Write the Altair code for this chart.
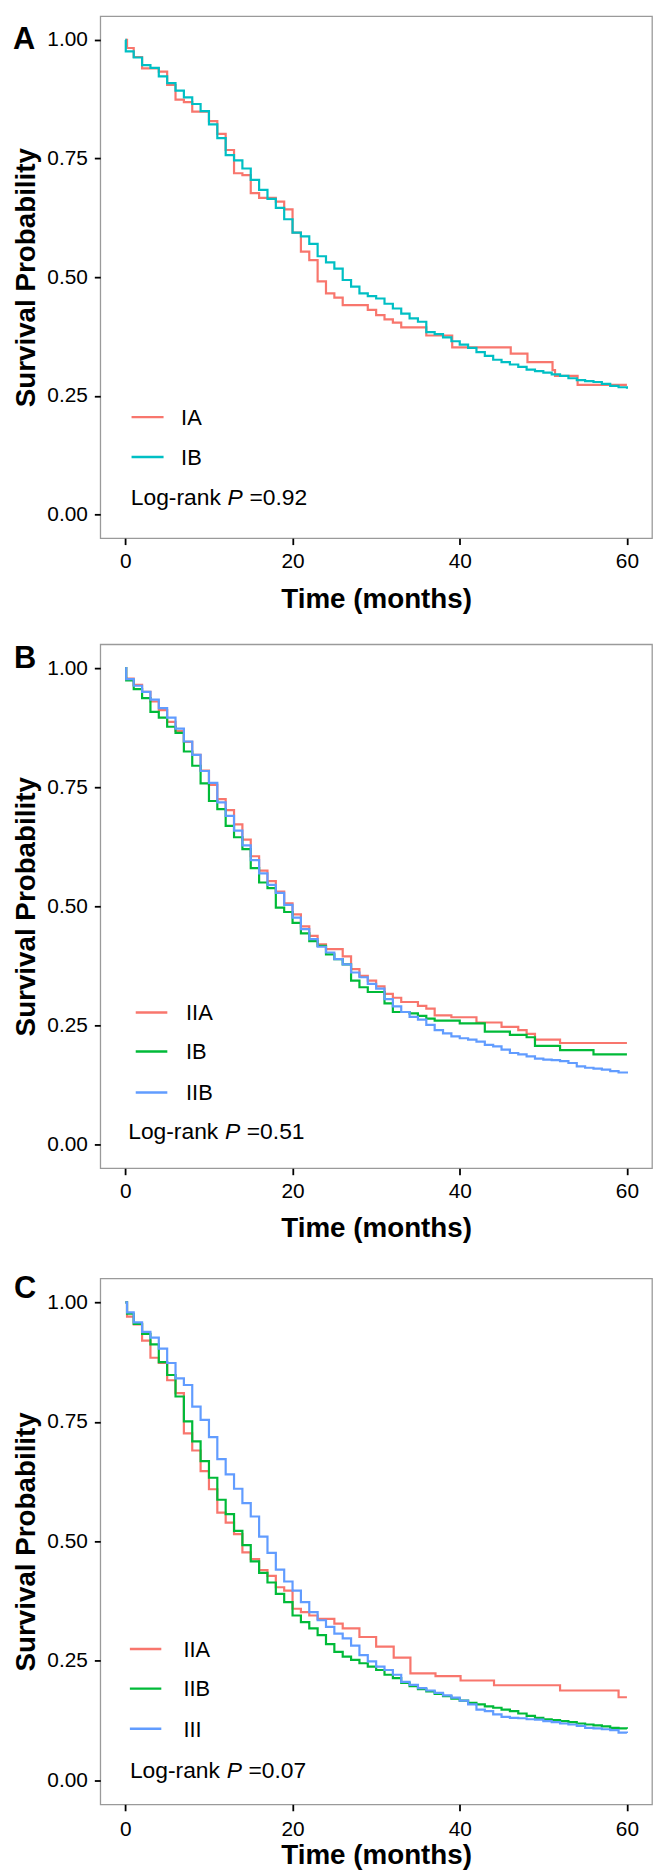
import altair as alt
import pandas as pd

FONT = "Liberation Sans"

# ---------------- Panel A ----------------
A_stages = ["IA", "IB"]
A_colors = ["#F8766D", "#00BFC4"]
A_IA_t = [0, 0.2, 1, 2, 4, 5, 6, 7, 8, 10, 11, 12, 13, 14, 15, 16, 18, 19, 20, 21, 22, 23, 24, 25, 26,
          29, 30, 31, 32, 33, 36, 39.1, 46.1, 48.1, 51.1, 51.4, 54.1, 60]
A_IA_s = [1.0, 0.983, 0.964, 0.940, 0.933, 0.905, 0.874, 0.869, 0.849, 0.829, 0.802, 0.768, 0.719, 0.715,
          0.677, 0.667, 0.659, 0.643, 0.594, 0.554, 0.536, 0.491, 0.466, 0.457, 0.441,
          0.431, 0.420, 0.411, 0.404, 0.394, 0.377, 0.352, 0.339, 0.321, 0.304, 0.292, 0.273, 0.273]
A_IB_t = [0, 0.05, 1, 2, 3, 4, 5, 6, 7, 8, 9, 10, 11, 12, 13, 14, 15, 16, 17, 18, 19, 20, 21, 22, 23, 24,
          25, 26, 27, 28, 29, 30, 31, 32, 33, 34, 35, 36, 37, 38, 39, 40, 41, 42, 43, 44, 45, 46, 47, 48,
          49, 50, 51, 52, 53, 54, 55, 56, 57, 58, 59, 60]
A_IB_s = [1.0, 0.976, 0.963, 0.947, 0.941, 0.923, 0.909, 0.893, 0.879, 0.865, 0.850, 0.822, 0.793, 0.757,
          0.746, 0.729, 0.705, 0.684, 0.665, 0.646, 0.622, 0.594, 0.586, 0.570, 0.544, 0.531,
          0.518, 0.494, 0.480, 0.466, 0.460, 0.455, 0.444, 0.434, 0.423, 0.413, 0.406, 0.384, 0.380, 0.373,
          0.365, 0.358, 0.351, 0.342, 0.334, 0.326, 0.321, 0.316, 0.311, 0.305,
          0.302, 0.299, 0.295, 0.292, 0.287, 0.283, 0.281, 0.279, 0.275, 0.271, 0.268, 0.265]
A_pval = "=0.92"

# ---------------- Panel B ----------------
B_stages = ["IIA", "IB", "IIB"]
B_colors = ["#F8766D", "#00BA38", "#619CFF"]
B_IIA_t = [0, 0.1, 1, 2, 3, 4, 5, 6, 7, 8, 9, 10, 11, 12, 13, 14, 15, 16, 17, 18, 19, 20, 21, 22, 23, 24,
           26, 27, 28, 29, 30, 31, 32, 33, 35, 36, 37, 39, 42, 45, 47, 48, 49, 52, 60]
B_IIA_s = [1.0, 0.978, 0.965, 0.950, 0.930, 0.912, 0.887, 0.868, 0.845, 0.818, 0.785, 0.755, 0.725, 0.702,
           0.672, 0.640, 0.605, 0.575, 0.553, 0.531, 0.506, 0.483, 0.458, 0.438, 0.420, 0.410,
           0.395, 0.368, 0.354, 0.344, 0.332, 0.316, 0.308, 0.299, 0.291, 0.285, 0.271, 0.267, 0.256, 0.247,
           0.240, 0.232, 0.220, 0.213, 0.213]
B_IB_t = [0, 0.1, 1, 2, 3, 4, 5, 6, 7, 8, 9, 10, 11, 12, 13, 14, 15, 16, 17, 18, 19, 20, 21, 22, 23, 24,
          25, 26, 27, 28, 29, 31, 32, 34, 35, 36, 37, 40, 43, 46, 48, 49, 52, 56, 60]
B_IB_s = [1.0, 0.974, 0.956, 0.937, 0.908, 0.896, 0.877, 0.864, 0.825, 0.795, 0.758, 0.721, 0.704, 0.669,
          0.645, 0.620, 0.580, 0.550, 0.538, 0.497, 0.488, 0.465, 0.443, 0.427, 0.417, 0.399,
          0.389, 0.378, 0.344, 0.330, 0.320, 0.296, 0.278, 0.275, 0.270, 0.264, 0.260, 0.254, 0.237, 0.230,
          0.225, 0.207, 0.198, 0.189, 0.189]
B_IIB_t = [0, 0.1, 1, 2, 3, 4, 5, 6, 7, 8, 9, 10, 11, 12, 13, 14, 15, 16, 17, 18, 19, 20, 21, 22, 23, 24,
           25, 26, 27, 28, 29, 30, 31, 32, 33, 34, 35, 36, 37, 38, 39, 40, 41, 42, 43, 44, 45, 46, 47, 48,
           49, 50, 51, 52, 53, 54, 55, 56, 57, 58, 59, 60]
B_IIB_s = [1.0, 0.977, 0.963, 0.950, 0.934, 0.916, 0.896, 0.873, 0.846, 0.818, 0.784, 0.759, 0.718, 0.690,
           0.659, 0.628, 0.597, 0.569, 0.545, 0.528, 0.503, 0.476, 0.452, 0.431, 0.415, 0.403,
           0.389, 0.378, 0.361, 0.351, 0.337, 0.327, 0.305, 0.290, 0.278, 0.268, 0.262, 0.251, 0.240, 0.233,
           0.227, 0.223, 0.220, 0.216, 0.209, 0.206, 0.199, 0.192, 0.189, 0.185,
           0.180, 0.178, 0.177, 0.175, 0.171, 0.164, 0.161, 0.159, 0.157, 0.154, 0.151, 0.149]
B_pval = "=0.51"

# ---------------- Panel C ----------------
C_stages = ["IIA", "IIB", "III"]
C_colors = ["#F8766D", "#00BA38", "#619CFF"]
C_IIA_t = [0, 0.2, 1, 2, 3, 4, 5, 6, 7, 8, 9, 10, 11, 12, 13, 14, 15, 16, 17, 18, 19, 20, 21, 22, 23,
           25, 26, 28, 30, 32.1, 34.1, 37.1, 40.1, 44.1, 52, 59, 60]
C_IIA_s = [1.0, 0.970, 0.954, 0.920, 0.884, 0.873, 0.837, 0.810, 0.726, 0.690, 0.647, 0.609, 0.560, 0.539,
           0.515, 0.477, 0.463, 0.440, 0.428, 0.404, 0.397, 0.359, 0.352, 0.345, 0.338,
           0.328, 0.318, 0.300, 0.280, 0.257, 0.224, 0.218, 0.209, 0.199, 0.188, 0.174, 0.174]
C_IIB_t = [0, 0.2, 1, 2, 3, 4, 5, 6, 7, 8, 9, 10, 11, 12, 13, 14, 15, 16, 17, 18, 19, 20, 21, 22, 23, 24,
           25, 26, 27, 28, 29, 30, 31, 32, 33, 34, 35, 36, 37, 38, 39, 40, 41, 42, 43, 44, 45, 46, 47, 48,
           49, 50, 51, 52, 53, 54, 55, 56, 57, 58, 59, 60]
C_IIB_s = [1.0, 0.976, 0.955, 0.934, 0.912, 0.875, 0.848, 0.803, 0.751, 0.709, 0.668, 0.633, 0.587, 0.557,
           0.522, 0.492, 0.458, 0.434, 0.414, 0.390, 0.373, 0.345, 0.331, 0.318, 0.304, 0.285,
           0.269, 0.259, 0.252, 0.245, 0.238, 0.231, 0.221, 0.214, 0.204, 0.197, 0.191, 0.186, 0.181, 0.176,
           0.171, 0.167, 0.162, 0.159, 0.155, 0.152, 0.148, 0.145, 0.140, 0.135,
           0.131, 0.128, 0.126, 0.124, 0.122, 0.119, 0.117, 0.115, 0.113, 0.110, 0.109, 0.108]
C_III_t = [0, 0.2, 1, 2, 3, 4, 5, 6, 7, 8, 9, 10, 11, 12, 13, 14, 15, 16, 17, 18, 19, 20, 21, 22, 23, 24,
           25, 26, 27, 28, 29, 30, 31, 32, 33, 34, 35, 36, 37, 38, 39, 40, 41, 42, 43, 44, 45, 46, 47, 48,
           49, 50, 51, 52, 53, 54, 55, 56, 57, 58, 59, 60]
C_III_s = [1.0, 0.979, 0.958, 0.938, 0.926, 0.903, 0.873, 0.841, 0.827, 0.782, 0.754, 0.718, 0.672, 0.640,
           0.610, 0.580, 0.552, 0.510, 0.476, 0.441, 0.416, 0.397, 0.373, 0.352, 0.335, 0.321,
           0.307, 0.297, 0.282, 0.262, 0.249, 0.238, 0.231, 0.221, 0.206, 0.200, 0.193, 0.188, 0.183, 0.178,
           0.173, 0.167, 0.159, 0.148, 0.145, 0.138, 0.133, 0.131, 0.130, 0.128,
           0.127, 0.124, 0.122, 0.119, 0.117, 0.114, 0.110, 0.109, 0.107, 0.105, 0.100, 0.099]
C_pval = "=0.07"

X_TICKS = [0, 20, 40, 60]
Y_TICKS = [0, 0.25, 0.5, 0.75, 1.0]

W = 556
X_SCALE = alt.Scale(domain=[-3, 63], nice=False, zero=False)
Y_SCALE = alt.Scale(domain=[-0.05, 1.05], nice=False, zero=False)


def panel(curves, stages, colors, leg, lr, pval, letter, letter_xy, xlab_pad, xtitle_y, H):
    rows = []
    for st, (ts, ss) in zip(stages, curves):
        for t, s in zip(ts, ss):
            rows.append({"stage": st, "time": t, "surv": s})
    df = pd.DataFrame(rows)
    color = alt.Color("stage:N", scale=alt.Scale(domain=stages, range=colors), legend=None)

    x_axis = alt.Axis(values=X_TICKS, title="Time (months)", tickSize=6.5, labelPadding=xlab_pad,
                      labelFlush=False, titleX=W / 2, titleY=xtitle_y, titleAlign="center",
                      titleBaseline="alphabetic")
    y_axis = alt.Axis(values=Y_TICKS, format=".2f", title="Survival Probability", tickSize=6,
                      labelPadding=7, titleX=-66.3, titleY=H / 2, titleAngle=270,
                      titleAlign="center", titleBaseline="alphabetic")

    def X(f):
        return alt.X(f, scale=X_SCALE, axis=x_axis)

    def Y(f):
        return alt.Y(f, scale=Y_SCALE, axis=y_axis)

    lines = alt.Chart(df).mark_line(interpolate="step-after", strokeWidth=2.2).encode(
        x=X("time:Q"), y=Y("surv:Q"), color=color,
    )

    x0, x1, lx, ys = leg
    ldf = pd.DataFrame({"stage": stages, "x0": [x0] * len(stages), "x1": [x1] * len(stages),
                        "lx": [lx] * len(stages), "y": ys})
    rules = alt.Chart(ldf).mark_rule(strokeWidth=2.4).encode(
        x=X("x0:Q"), x2="x1:Q", y=Y("y:Q"), color=color)
    labels = alt.Chart(ldf).mark_text(align="left", baseline="alphabetic", dy=7.9, fontSize=22,
                                      font=FONT, color="black").encode(
        x=X("lx:Q"), y=Y("y:Q"), text="stage:N")

    lrx, lry = lr
    tdf = pd.DataFrame({"x": [lrx], "y": [lry], "a": ["Log-rank"], "p": ["P"], "v": [pval]})
    base_t = alt.Chart(tdf)
    t1 = base_t.mark_text(align="left", baseline="alphabetic", fontSize=23, font=FONT,
                          color="black").encode(text="a:N", x=X("x:Q"), y=Y("y:Q"))
    t2 = base_t.mark_text(align="left", baseline="alphabetic", fontSize=23, font=FONT, dx=97.5,
                          fontStyle="italic", color="black").encode(text="p:N", x=X("x:Q"), y=Y("y:Q"))
    t3 = base_t.mark_text(align="left", baseline="alphabetic", fontSize=23, font=FONT, dx=119.5,
                          color="black").encode(text="v:N", x=X("x:Q"), y=Y("y:Q"))

    let = alt.Chart(pd.DataFrame({"l": [letter]})).mark_text(
        align="left", baseline="alphabetic", fontSize=31, fontWeight="bold", font=FONT, color="black"
    ).encode(text="l:N", x=alt.value(letter_xy[0]), y=alt.value(letter_xy[1]))

    return alt.layer(lines, rules, labels, t1, t2, t3, let).properties(width=W, height=H)


A = panel([(A_IA_t, A_IA_s), (A_IB_t, A_IB_s)], A_stages, A_colors,
          (0.74, 4.57, 6.67, [0.205, 0.121]), (0.65, 0.020), A_pval, "A", (-88, 33), 6.4, 69.5, 526)
B = panel([(B_IIA_t, B_IIA_s), (B_IB_t, B_IB_s), (B_IIB_t, B_IIB_s)], B_stages, B_colors,
          (1.24, 5.02, 7.26, [0.277, 0.195, 0.109]), (0.34, 0.012), B_pval, "B", (-87, 23.7), 6.0, 69, 528)
C = panel([(C_IIA_t, C_IIA_s), (C_IIB_t, C_IIB_s), (C_III_t, C_III_s)], C_stages, C_colors,
          (0.54, 4.30, 6.94, [0.275, 0.192, 0.108]), (0.54, 0.005), C_pval, "C", (-87, 19.5), 8.0, 59.4, 530)

chart = alt.vconcat(A, B, C, spacing=28).resolve_scale(
    color="independent", x="independent", y="independent"
).properties(
    padding={"left": 4, "top": 0, "right": 0, "bottom": 0}
).configure_view(
    stroke="#9a9a9a", strokeWidth=1.3
).configure_axis(
    labelFont=FONT, titleFont=FONT, labelColor="black", titleColor="black", tickColor="black",
    tickWidth=1.8, grid=False, domain=False, labelFontSize=21, titleFontSize=28, titleFontWeight="bold"
)

chart.save("out.html", embed_options={"renderer": "svg", "actions": False})
